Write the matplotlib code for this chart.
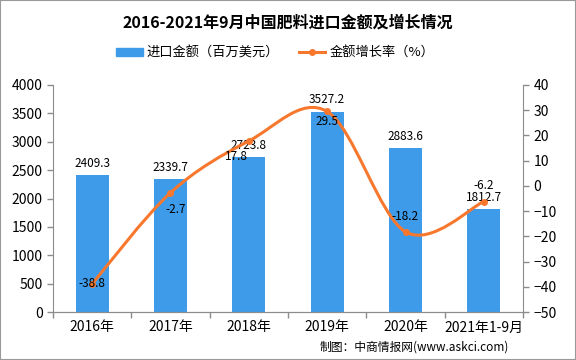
import matplotlib.pyplot as plt
from matplotlib.path import Path
from matplotlib.patches import PathPatch, Rectangle
from matplotlib.lines import Line2D
import numpy as np

plt.rcParams['font.family'] = ['Noto Sans CJK SC', 'DejaVu Sans']

# data
years = ['2016年', '2017年', '2018年', '2019年', '2020年', '2021年1-9月']
amount = [2409.3, 2339.7, 2723.8, 3527.2, 2883.6, 1812.7]
growth = [-38.8, -2.7, 17.8, 29.5, -18.2, -6.2]

bar_color = '#3d9bea'
line_color = '#f7782d'
axis_color = '#8c8c8c'

fig = plt.figure(figsize=(5.76, 3.6), dpi=100)
ax = fig.add_axes([0.092, 0.133, 0.816, 0.631])
ax2 = ax.twinx()

x = np.arange(len(years))
ax.bar(x, amount, width=0.42, color=bar_color, zorder=2)
for xi, v in zip(x, amount):
    ax.annotate(f'{v:.1f}', (xi, v), xytext=(0, 4), textcoords='offset points',
                ha='center', va='bottom', fontsize=8.5)

ax.set_xlim(-0.5, len(years) - 0.5)
ax.set_ylim(0, 4000)
ax.set_yticks(range(0, 4001, 500))
ax2.set_ylim(-50, 40)
ax2.set_yticks(range(-50, 41, 10))

# smooth curve (Catmull-Rom -> cubic Bezier)
pts = np.column_stack([x, growth]).astype(float)
ext = np.vstack([pts[0], pts, pts[-1]])
verts = [tuple(pts[0])]
codes = [Path.MOVETO]
for i in range(len(pts) - 1):
    p0, p1, p2, p3 = ext[i], ext[i + 1], ext[i + 2], ext[i + 3]
    c1 = p1 + (p2 - p0) / 6
    c2 = p2 - (p3 - p1) / 6
    verts += [tuple(c1), tuple(c2), tuple(p2)]
    codes += [Path.CURVE4] * 3
ax2.add_patch(PathPatch(Path(verts, codes), facecolor='none', edgecolor=line_color,
                        lw=2.2, zorder=3))
ax2.plot(x, growth, 'o', color=line_color, ms=4, zorder=4)

offsets = [(0, 0), (4, -12), (-9, -11.5), (0, -7.5), (0, 11), (0, 11.5)]
for xi, v, off in zip(x, growth, offsets):
    ax2.annotate(f'{v}', (xi, v), xytext=off, textcoords='offset points',
                 ha='center', va='center', fontsize=8.5, zorder=5)

# axes styling
for a in (ax, ax2):
    a.spines['top'].set_visible(False)
    a.spines['left'].set_color(axis_color)
    a.spines['right'].set_color(axis_color)
    a.spines['bottom'].set_color(axis_color)
    a.tick_params(colors=axis_color, labelcolor='black', labelsize=10, width=1, length=4)
ax.spines['right'].set_visible(False)
ax2.spines['left'].set_visible(False)

ax.set_xticks(np.arange(-0.5, len(years), 1.0))
ax.set_xticklabels([])
ax.set_xticks(x, minor=True)
ax.set_xticklabels(years, minor=True, fontsize=10)
ax.tick_params(axis='x', which='minor', length=0, pad=6)
ax.tick_params(axis='x', which='major', length=4)

# legend
handles = [Rectangle((0, 0), 1, 1, color=bar_color),
           Line2D([0], [0], color=line_color, lw=2.2, marker='o', ms=4)]
fig.legend(handles, ['进口金额（百万美元）', '金额增长率（%）'], loc='center',
           bbox_to_anchor=(0.478, 0.853), ncol=2, frameon=False, fontsize=9.5,
           handlelength=2.0, handleheight=0.6, columnspacing=1.5, handletextpad=0.3)

fig.text(0.5, 0.938, '2016-2021年9月中国肥料进口金额及增长情况', ha='center', va='center',
         fontsize=11.5, fontweight='bold')
fig.text(0.884, 0.035, '制图：中商情报网(www.askci.com)', ha='right', va='center',
         fontsize=8.5)

fig.patches.append(Rectangle((0, 0), 1, 1, transform=fig.transFigure, fill=False,
                             edgecolor='#999999', lw=1.5))

fig.savefig('out.png', dpi=100)
